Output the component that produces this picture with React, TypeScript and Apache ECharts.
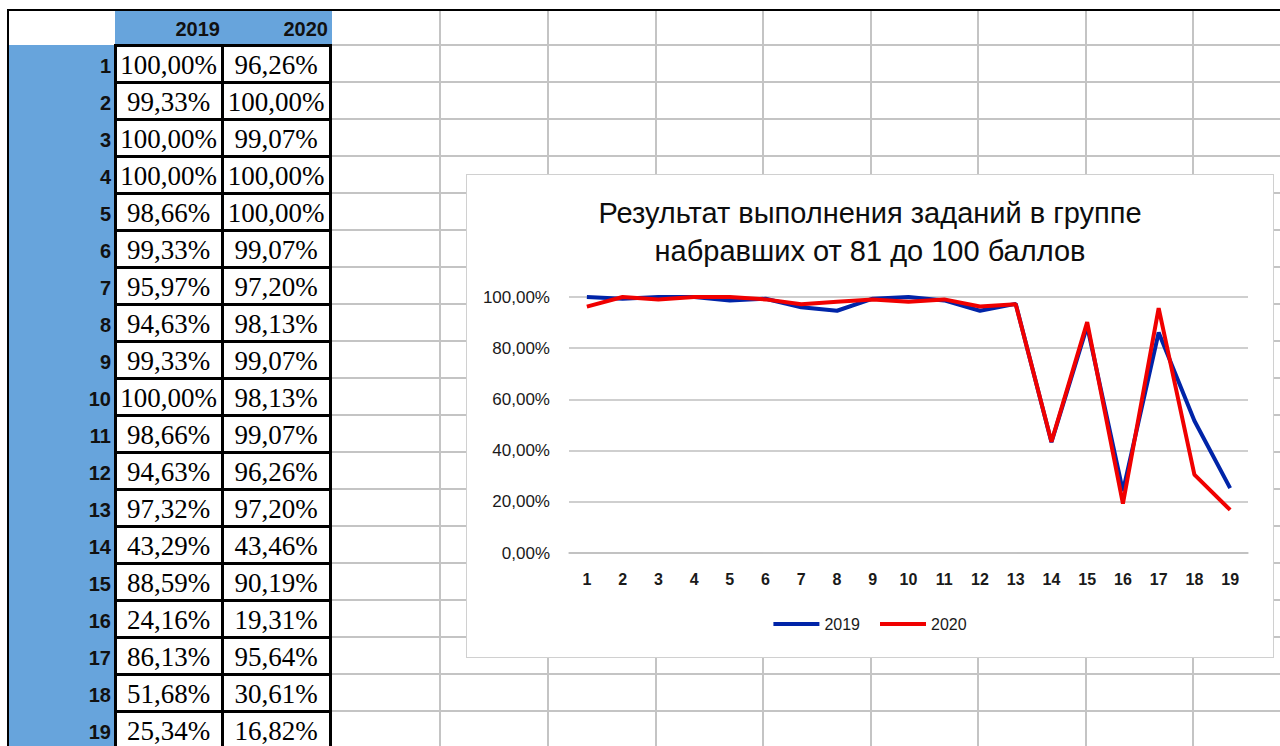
import React, { useEffect, useRef } from "react";
import * as echarts from "echarts";

const categories = ["1","2","3","4","5","6","7","8","9","10","11","12","13","14","15","16","17","18","19"];
const values2019 = [100.0, 99.33, 100.0, 100.0, 98.66, 99.33, 95.97, 94.63, 99.33, 100.0, 98.66, 94.63, 97.32, 43.29, 88.59, 24.16, 86.13, 51.68, 25.34];
const values2020 = [96.26, 100.0, 99.07, 100.0, 100.0, 99.07, 97.2, 98.13, 99.07, 98.13, 99.07, 96.26, 97.2, 43.46, 90.19, 19.31, 95.64, 30.61, 16.82];
const seriesNames = ["2019", "2020"];
const yTicks = [0, 20, 40, 60, 80, 100];
const titleLines = ["Результат выполнения заданий в группе", "набравших от 81 до 100 баллов"];

const fmt = (v: number) => v.toFixed(2).replace(".", ",") + "%";

const ROW_TOP = 45;
const ROW_H = 37;
const GRID_X = [440, 548, 656, 763, 871, 978, 1086, 1193];
const BLUE = "#67a4dc";
const GRAY = "#c4c4c4";
const C2019 = "#0024a8";
const C2020 = "#f00000";

function Chart() {
  const ref = useRef<HTMLDivElement>(null);
  useEffect(() => {
    if (!ref.current) return;
    const chart = echarts.init(ref.current, undefined, { renderer: "svg" });
    chart.setOption({
      animation: false,
      backgroundColor: "#ffffff",
      title: {
        text: titleLines.join("\n"),
        left: "center",
        top: 14,
        textStyle: {
          fontFamily: "Liberation Sans",
          fontSize: 29,
          fontWeight: "normal",
          color: "#0d0d0d",
          lineHeight: 38,
        },
      },
      grid: { left: 102, right: 25, top: 122, bottom: 104, containLabel: false },
      legend: {
        data: [
          { name: seriesNames[0], icon: "rect", itemStyle: { color: C2019 } },
          { name: seriesNames[1], icon: "rect", itemStyle: { color: C2020 } },
        ],
        bottom: 20,
        left: "center",
        itemWidth: 46,
        itemHeight: 4,
        itemGap: 20,
        textStyle: { fontFamily: "Liberation Sans", fontSize: 16, color: "#1a1a1a" },
      },
      xAxis: {
        type: "category",
        data: categories,
        boundaryGap: true,
        axisLine: { show: true, lineStyle: { color: "#bfbfbf", width: 1.5 } },
        axisTick: { show: false },
        axisLabel: {
          fontFamily: "Liberation Sans",
          fontSize: 16,
          fontWeight: "bold",
          color: "#1a1a1a",
          margin: 18,
          interval: 0,
        },
      },
      yAxis: {
        type: "value",
        min: yTicks[0],
        max: yTicks[yTicks.length - 1],
        interval: 20,
        axisLine: { show: false },
        axisTick: { show: false },
        splitLine: { lineStyle: { color: "#bfbfbf", width: 1.5 } },
        axisLabel: {
          fontFamily: "Liberation Sans",
          fontSize: 17,
          color: "#1a1a1a",
          margin: 19,
          formatter: (v: number) => fmt(v),
        },
      },
      series: [
        {
          name: seriesNames[0],
          type: "line",
          data: values2019,
          symbol: "none",
          lineStyle: { color: C2019, width: 4 },
          itemStyle: { color: C2019 },
        },
        {
          name: seriesNames[1],
          type: "line",
          data: values2020,
          symbol: "none",
          lineStyle: { color: C2020, width: 4 },
          itemStyle: { color: C2020 },
        },
      ],
    });
    return () => chart.dispose();
  }, []);
  return <div ref={ref} style={{ width: "100%", height: "100%" }} />;
}

export default function App() {
  const rows = categories.length;
  const els: React.ReactNode[] = [];
  for (let k = 0; k <= rows + 1; k++) {
    const y = ROW_TOP + ROW_H * k;
    if (y > 746) break;
    els.push(
      <div key={"h" + k} style={{ position: "absolute", left: 332, top: y - 1, width: 948, height: 2, background: GRAY }} />
    );
  }
  GRID_X.forEach((x, i) =>
    els.push(
      <div key={"v" + i} style={{ position: "absolute", left: x - 1, top: 10, width: 2, height: 736, background: GRAY }} />
    )
  );
  return (
    <div
      style={{
        position: "fixed",
        left: 0,
        top: 0,
        width: 1280,
        height: 746,
        overflow: "hidden",
        background: "#ffffff",
      }}
    >
      {els}
      <div style={{ position: "absolute", left: 7, top: 9, width: 1273, height: 2, background: "#000" }} />
      <div style={{ position: "absolute", left: 7, top: 9, width: 2, height: 737, background: "#000" }} />
      <div style={{ position: "absolute", left: 115, top: 11, width: 217, height: 34, background: BLUE }} />
      <div style={{ position: "absolute", left: 9, top: 45, width: 106, height: 701, background: BLUE }} />
      {seriesNames.map((n, i) => (
        <div
          key={"hd" + n}
          style={{
            position: "absolute",
            left: i === 0 ? 115 : 222,
            top: 11,
            width: i === 0 ? 105 : 106,
            height: 34,
            lineHeight: "36px",
            textAlign: "right",
            fontFamily: "Liberation Sans",
            fontWeight: "bold",
            fontSize: 20,
            color: "#111",
          }}
        >
          {n}
        </div>
      ))}
      {categories.map((c, k) => {
        const top = ROW_TOP + ROW_H * k;
        return (
          <React.Fragment key={"r" + c}>
            <div
              style={{
                position: "absolute",
                left: 9,
                top,
                width: 102,
                height: ROW_H,
                lineHeight: ROW_H + 6 + "px",
                textAlign: "right",
                fontFamily: "Liberation Sans",
                fontWeight: "bold",
                fontSize: 20,
                color: "#111",
              }}
            >
              {c}
            </div>
            {[values2019[k], values2020[k]].map((v, i) => (
              <div
                key={i}
                style={{
                  position: "absolute",
                  left: i === 0 ? 115 : 222,
                  top,
                  width: i === 0 ? 107 : 108,
                  height: ROW_H,
                  lineHeight: ROW_H + 4 + "px",
                  textAlign: "center",
                  fontFamily: "Liberation Serif",
                  fontSize: 27,
                  color: "#000",
                  background: "#fff",
                  whiteSpace: "nowrap",
                }}
              >
                {fmt(v)}
              </div>
            ))}
          </React.Fragment>
        );
      })}
      {categories.map((c, k) => (
        <div
          key={"bl" + c}
          style={{ position: "absolute", left: 114, top: ROW_TOP + ROW_H * k - 1, width: 218, height: 3, background: "#000" }}
        />
      ))}
      <div style={{ position: "absolute", left: 114, top: 750, width: 218, height: 3, background: "#000" }} />
      {[115, 222, 330].map((x) => (
        <div key={"bv" + x} style={{ position: "absolute", left: x - 1, top: 44, width: 3, height: 702, background: "#000" }} />
      ))}
      <div
        style={{
          position: "absolute",
          left: 466,
          top: 174,
          width: 808,
          height: 484,
          border: "1px solid #d0d0d0",
          boxSizing: "border-box",
          background: "#fff",
        }}
      >
        <Chart />
      </div>
    </div>
  );
}
